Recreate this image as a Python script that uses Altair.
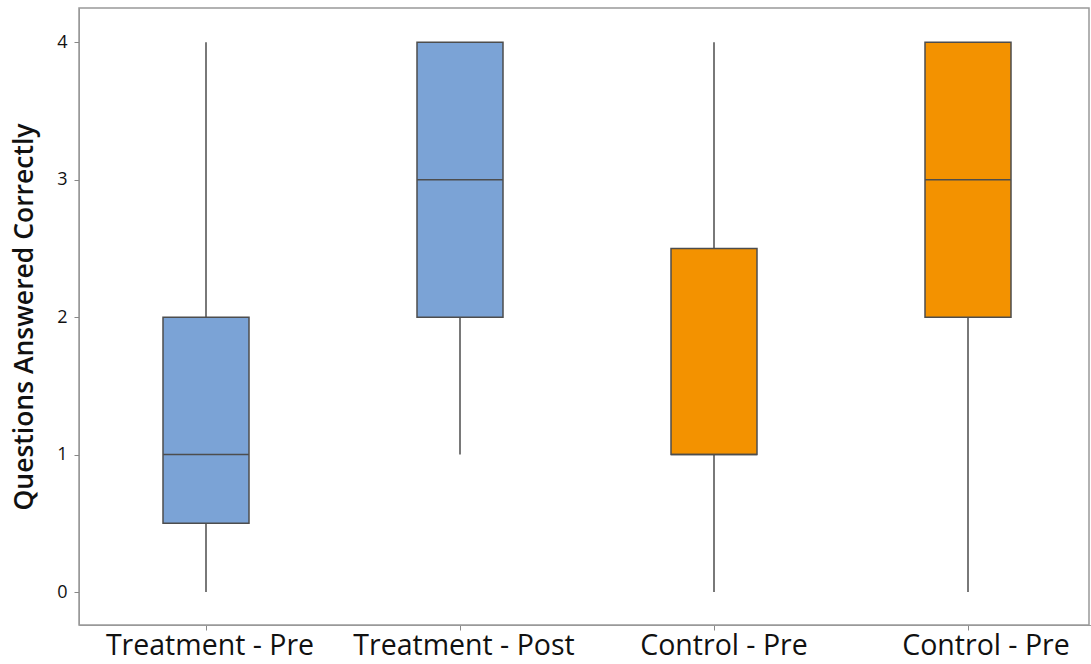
import altair as alt
import pandas as pd

# Group labels as printed under each box, and a fill colour per group
labels = ["Treatment - Pre", "Treatment - Post", "Control - Pre", "Control - Pre"]
fills = ["#7BA3D6", "#7BA3D6", "#F39200", "#F39200"]

# Five-number summaries of questions answered correctly
lo = [0, 1, 0, 0]
q1 = [0.5, 2, 1, 2]
med = [1, 3, 1, 3]
q3 = [2, 4, 2.5, 4]
hi = [4, 4, 4, 4]

df = pd.DataFrame({
    "g": list(range(len(labels))),
    "lo": lo, "q1": q1, "med": med, "q3": q3, "hi": hi, "fill": fills,
})

label_expr = "[" + ",".join(f"'{s}'" for s in labels) + "][datum.value]"

x = alt.X(
    "g:O",
    title=None,
    axis=alt.Axis(
        labelExpr=label_expr, labelAngle=0, labelFontSize=28.5, labelColor="#111",
        labelFont="Open Sans", tickSize=5, tickColor="#888", domainColor="#999",
        labelPadding=1, labelLimit=0,
        labelOffset={
            "condition": [
                {"test": "datum.value == 3", "value": 18},
                {"test": "datum.value == 2", "value": 10},
            ],
            "value": 4,
        },
    ),
    scale=alt.Scale(paddingInner=0, paddingOuter=0, range=[0, 1016]),
)
yscale = alt.Scale(domain=[-0.24, 4.25], nice=False, zero=False)
y_axis = alt.Axis(
    values=[0, 1, 2, 3, 4], format="d", title="Questions Answered Correctly",
    titleFontSize=26.5, titleFont="Open Sans", titleFontWeight=600, titleColor="#111",
    labelFontSize=18, labelFont="Open Sans", labelColor="#111", labelPadding=7,
    tickSize=5, tickColor="#888", domainColor="#999", grid=False, titlePadding=18,
)

base = alt.Chart(df)

whisker = base.mark_rule(color="#4d4d4d", strokeWidth=1.5).encode(
    x=x, y=alt.Y("lo:Q", scale=yscale, axis=y_axis), y2="hi:Q"
)
box = base.mark_bar(size=86, stroke="#4d4d4d", strokeWidth=1.5).encode(
    x=x, y=alt.Y("q1:Q", scale=yscale), y2="q3:Q",
    fill=alt.Fill("fill:N", scale=None),
)
median = base.mark_tick(size=86, thickness=1.5, color="#4d4d4d", opacity=1).encode(
    x=x, y=alt.Y("med:Q", scale=yscale)
)

chart = (
    alt.layer(whisker, box, median)
    .properties(
        width=1010, height=617,
        autosize=alt.AutoSizeParams(type="none"),
        padding={"left": 79, "top": 8, "right": 2, "bottom": 39},
        background="white",
    )
    .configure_view(stroke="#999", strokeWidth=1.5)
)

chart.save("out.html", embed_options={"renderer": "svg", "actions": False})
